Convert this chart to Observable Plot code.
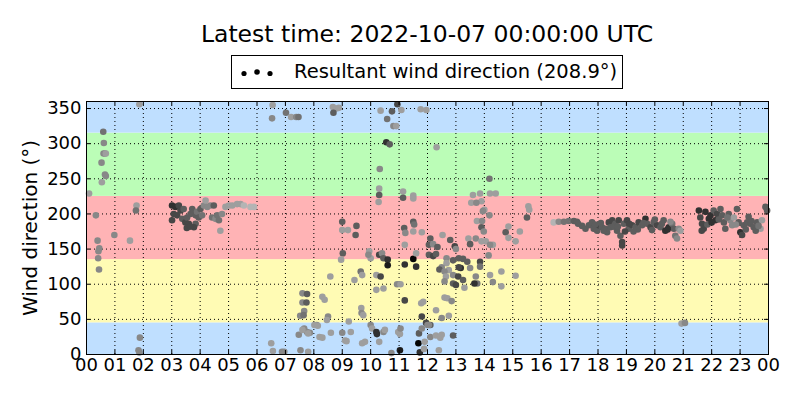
<!DOCTYPE html>
<html>
<head>
<meta charset="utf-8">
<script src="https://cdn.jsdelivr.net/npm/d3@7"></script>
<script src="https://cdn.jsdelivr.net/npm/@observablehq/plot@0.6"></script>
<style>
  html, body { margin: 0; padding: 0; background: #fff; }
  #wrap { position: relative; width: 800px; height: 400px; font-family: "DejaVu Sans", sans-serif; color: #000; }
  #title { position: absolute; left: 86px; width: 682px; top: 19px; text-align: center; font-size: 23.5px; line-height: 30px; }
  #legend { position: absolute; left: 231px; top: 55px; width: 390px; height: 32px; border: 1px solid #000; background: #fff; }
  #legend svg { position: absolute; left: 0; top: 0; }
  #legend span { position: absolute; left: 62px; top: 4px; font-size: 19.5px; line-height: 24px; white-space: nowrap; }
  #chart { position: absolute; left: 0; top: 95px; }
</style>
</head>
<body>
<div id="wrap">
  <div id="title"></div>
  <div id="legend"></div>
  <div id="chart"></div>
</div>
<script>
const titleText = "Latest time: 2022-10-07 00:00:00 UTC";
const legendText = "Resultant wind direction (208.9°)";
const yLabel = "Wind direction (°)";

// hour of day (0–24)
const hours = [
  1.86,0.59,0.61,0.60,0.65,0.68,0.53,0.65,0.68,0.54,0.09,0.33,0.98,1.53,0.39,0.45,0.42,0.41,0.44,1.76,1.74,1.88,1.83,1.86,
  3.01,3.13,3.07,3.01,3.25,3.31,3.19,3.42,3.37,3.48,3.54,3.60,3.66,3.72,3.78,3.84,3.84,3.78,3.89,3.95,4.01,4.07,4.13,4.19,4.25,4.36,4.48,4.42,4.54,4.60,4.66,4.71,4.77,4.89,5.01,5.13,5.30,5.42,5.54,5.77,5.89,3.53,3.65,
  6.55,6.53,7.02,7.2,7.38,7.46,7.6,7.76,7.6,7.74,7.66,7.52,7.64,7.66,7.76,7.86,7.47,8.1,6.5,6.56,6.88,6.96,7.53,7.8,
  8.67,8.79,8.88,8.69,10.35,10.58,10.75,10.8,10.9,10.94,11.08,11.76,11.96,10.55,10.67,12.32,10.32,14.18,
  10.3,10.3,10.28,11.14,11.14,11.5,11.5,13.6,13.85,14.2,14.4,13.9,13.54,13.72,14.0,13.95,14.18,15.55,15.58,15.5,13.74,13.9,13.98,13.92,
  9.0,9.5,9.0,9.2,9.47,11.5,11.53,11.18,11.22,11.5,11.8,12.1,12.53,12.8,12.05,12.2,12.35,11.2,14.85,14.75,14.85,15.1,15.25,13.44,13.7,13.9,14.05,14.3,14.2,14.15,13.5,12.96,13.0,
  9.02,8.96,9.95,10.0,9.92,10.3,10.4,10.45,10.6,10.6,11.5,11.2,11.6,11.6,12.05,12.2,12.3,12.67,12.9,12.67,13.1,13.25,13.17,13.1,13.4,13.5,13.85,13.85,12.5,12.75,12.42,
  8.58,9.43,9.65,9.7,10.2,10.35,10.45,10.2,10.93,11.05,12.6,12.65,12.9,13.08,12.6,12.9,13.0,13.25,13.3,13.7,13.75,13.65,14.2,14.3,14.6,14.6,15.1,11.2,11.78,11.85,12.3,12.6,12.7,12.85,12.5,12.75,11.8,11.95,12.1,12.0,9.67,9.68,9.74,9.23,8.3,8.38,8.5,8.46,
  8.02,8.14,7.6,7.8,8.2,8.3,8.6,9.0,9.1,9.15,9.3,9.7,9.8,10.0,10.05,10.2,10.22,10.45,10.5,10.3,10.73,10.97,11.03,11.05,11.03,11.7,11.68,11.73,11.8,12.05,12.1,12.3,12.45,12.5,11.9,11.88,12.4,12.9,
  16.44,16.62,16.80,16.97,17.15,17.26,17.44,17.56,17.68,17.79,17.85,17.97,18.03,18.14,18.26,18.32,18.38,18.44,18.50,18.61,18.67,18.73,18.79,18.85,18.85,18.91,19.02,19.08,19.20,19.32,19.43,19.55,19.67,19.73,19.85,19.96,20.08,20.20,20.31,20.37,20.49,20.61,20.67,20.72,20.78,20.84,20.90,
  17.3,17.9,18.1,18.55,19.1,19.4,19.6,19.9,20.0,20.25,20.45,20.55,18.2,18.95,19.25,18.7,20.94,21.06,
  21.55,21.60,21.66,21.72,21.78,21.90,21.96,22.07,22.13,22.19,22.31,22.37,22.43,22.48,22.60,22.66,22.72,22.78,22.89,22.95,23.01,23.07,23.13,23.25,23.36,23.48,23.60,23.72,23.77,23.89,
  21.65,21.85,22.0,22.25,22.55,22.85,23.2,23.4,23.55,23.65,23.95,23.3
];
// wind direction (degrees)
const directions = [
  356,317,301,286,286,286,273,256,254,245,229,198,170,162,162,151,147,137,121,212,205,24,6,3,
  212,210,200,191,212,205,198,207,193,188,195,186,200,207,203,198,186,181,203,195,207,198,212,219,210,212,212,195,193,198,191,176,200,210,212,212,214,214,212,210,210,180,182,
  355,336,344,338,338,338,87,86,74,74,62,55,56,37,32,31,28,42,16,5,4,4,6,4,
  352,350,351,344,347,335,346,325,325,356,348,349,348,302,299,295,264,250,
  236,227,217,232,223,226,222,227,229,229,229,218,216,216,206,204,198,211,206,195,190,181,175,190,
  189,183,177,177,170,189,185,180,173,175,174,165,170,163,156,157,153,156,182,174,166,161,175,165,165,161,161,156,156,141,157,154,150,
  144,135,147,137,142,142,144,137,135,127,136,128,125,144,142,140,143,137,134,130,137,136,123,124,132,123,132,125,124,120,121,
  111,106,118,113,113,111,94,92,100,100,118,111,113,111,104,101,99,106,95,111,101,101,113,103,97,118,112,77,73,75,63,81,80,76,52,55,54,45,42,42,66,59,56,47,82,78,54,49,
  42,41,35,30,25,24,31,31,20,19,32,16,18,42,37,32,29,32,35,18,2,32,29,37,6,30,16,3,37,42,25,27,24,28,18,8,6,27,
  188,189,189,190,190,189,183,179,184,188,179,176,184,181,179,174,188,181,191,186,176,191,169,160,155,186,191,179,184,181,188,184,193,186,181,188,184,181,191,176,181,186,179,169,165,179,176,
  186,185,187,182,186,178,187,177,192,186,178,189,176,175,175,182,44,45,
  205,195,186,179,203,193,198,205,191,200,207,198,188,179,200,191,184,195,207,188,174,170,184,188,186,181,188,179,191,210,
  176,185,188,192,195,185,178,190,176,183,205,196
];
// wind speed (relative, drives the grey shade)
const speeds = [
  1.5,2.5,2,2,2,1.5,2,2,2,1.5,1.5,2,2,1.5,2,2,2,2,2,1.5,2.5,2,2,2,
  4,4,3.5,3.5,3.5,3.5,3.5,3,3,3.5,3,3.5,3,3,3,3,3,3.5,2.5,3,3,2.5,2,1.5,2,2,3,2.5,2,2.5,2.5,1.5,2,1.5,1.5,1.5,1.5,1.5,1,1,1,3.5,3.5,
  1.5,2,2.5,1.5,2,2.5,2,3,2,3,2,2,2.5,2,2,2,2,2,1.5,1.5,2,2,2,1.5,
  1.5,1.5,1.5,3,1.5,2.5,3,2,1.5,3.5,1.5,1.5,1.5,4,3,1.5,2,2.5,
  1.5,3,1.5,1.5,3,1.5,1.5,1.5,1.5,1.5,1.5,1.5,1.5,2,1.5,2,2,1.5,1.5,3,1.5,3,2,2,
  3,3,1.5,1.5,3,3,2.5,3,2,1.5,1.5,3,1.5,3,3,2,3,1.5,1.5,3,1.5,1.5,1.5,1.5,2,1.5,1.5,1.5,2,2,3,3.5,2,
  3,1.5,1.5,1.5,2,3.5,2,3,4,4.5,5,4,4,1.5,3,3.5,3,2,3,1.5,3,3,4,3.5,3,2,3.5,2.5,2,1.5,3,
  1.5,1.5,2.5,1.5,1.5,3.5,1.5,1.5,2,1.5,2,1.5,2,3.5,2,3,3.5,3,1.5,2,2.5,4,1.5,2,1.5,1.5,1.5,3.5,1.5,1.5,1.5,1.5,1.5,2,2,1.5,3.5,3.5,3,2,1.5,2,1.5,1.5,1.5,1.5,2,1.5,
  1.5,1.5,1.5,1.5,1.5,1.5,1.5,2,1.5,1.5,1.5,1.5,1.5,2,1.5,4,4,2,1.5,1.5,2,1.5,1.5,2,4.5,3,5,4,2,2,2,1.5,1.5,1.5,1.5,1.5,1.5,3,
  1,2,2.5,2.5,3,3,3,3,3,3,3,3,3.5,3,3,3,3.5,3,3.5,3,3,3.5,3,3.5,3.5,3,3.5,3,3.5,3,3.5,3,4,3,3.5,3,3.5,3,3,4,4,2.5,3,2.5,2,2,1.5,
  3,3,3,3,3.5,3,3,3,3,3,4,2,3,3.5,3,3,1.5,2,
  4,3.5,3.5,3.5,4,4,4,3,4,3.5,3,3,3,3,3,2,2,1.5,3,3,4,3.5,3,3,3,3,3,1.5,1.5,3,
  3.5,3,4,3,2.5,2,3,3,3,2.5,3,3
];

// direction sectors
const sectorLow  = [0, 45, 135, 225, 315];
const sectorHigh = [45, 135, 225, 315, 360];
const sectorColor = ["#bfdfff", "#fffbb4", "#ffb3b5", "#bbfdb7", "#bfdfff"];

const hourTicks = d3.range(0, 25);
const dirTicks = d3.range(0, 351, 50);

const data = hours.map((h, i) => ({h, d: directions[i], s: speeds[i]}));
const sectors = sectorLow.map((lo, i) => ({lo, hi: sectorHigh[i], color: sectorColor[i]}));

document.getElementById("title").textContent = titleText;
document.getElementById("legend").innerHTML =
  `<svg width="60" height="32"><circle cx="12" cy="17.5" r="2.6" fill="#000"/><circle cx="25" cy="16" r="2.8" fill="#000"/><circle cx="38" cy="17.5" r="2.6" fill="#000"/></svg><span>${legendText}</span>`;

const fmtHour = h => String(h % 24).padStart(2, "0");

const chart = Plot.plot({
  width: 800,
  height: 305,
  marginTop: 6,
  marginBottom: 46,
  marginLeft: 86,
  marginRight: 32,
  style: {fontFamily: "DejaVu Sans, sans-serif", fontSize: "18px", color: "#000", background: "transparent"},
  x: {domain: [0, 24], ticks: hourTicks, tickFormat: fmtHour, tickSize: 0, tickPadding: 4, label: null},
  y: {domain: [0, 360], ticks: dirTicks, tickSize: 0, tickPadding: 5, label: null},
  color: {type: "linear", domain: [1, 5], range: ["#b4b4b4", "#050505"], interpolate: "rgb"},
  marks: [
    ...sectors.map(s => Plot.rect([s], {y1: "lo", y2: "hi", fill: s.color})),
    Plot.ruleX(hourTicks.slice(1, -1), {stroke: "#000", strokeWidth: 1, strokeDasharray: "1,3"}),
    Plot.ruleY(dirTicks.slice(1), {stroke: "#000", strokeWidth: 1, strokeDasharray: "1,3"}),
    Plot.dot(data, {x: "h", y: "d", fill: "s", r: 3.3, stroke: null}),
    Plot.ruleX(hourTicks, {stroke: "#000", insetTop: 249}),
    Plot.ruleX(hourTicks, {stroke: "#000", insetBottom: 249}),
    Plot.ruleY(dirTicks, {stroke: "#000", insetRight: 678}),
    Plot.ruleY(dirTicks, {stroke: "#000", insetLeft: 678}),
    Plot.frame({stroke: "#000", strokeWidth: 1}),
    Plot.text([yLabel], {frameAnchor: "left", dx: -56, rotate: -90, fontSize: 20, fill: "#000", textAnchor: "middle"})
  ]
});
document.getElementById("chart").appendChild(chart);
</script>
</body>
</html>
